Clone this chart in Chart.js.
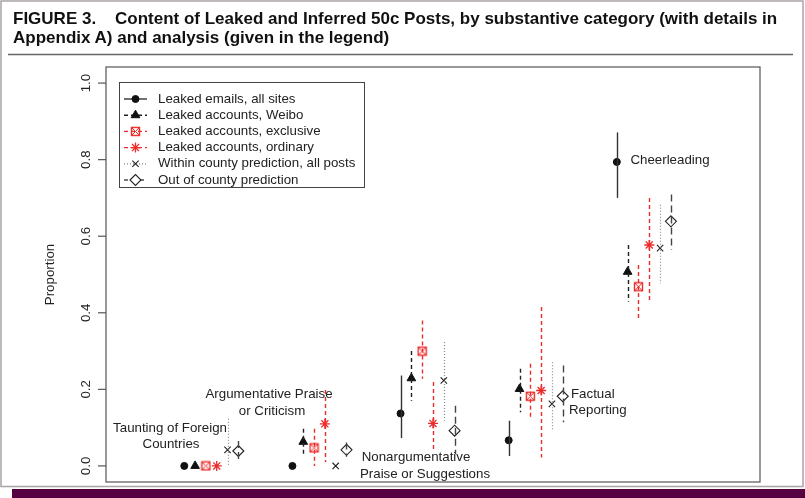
<!DOCTYPE html>
<html lang="en">
<head>
  <meta charset="UTF-8">
  <title>Content of Leaked and Inferred 50c Posts</title>
  <script src="https://cdn.jsdelivr.net/npm/chart.js"></script>
  <style>
    body { margin: 0; background: #fff; }
    #wrap { position: relative; width: 805px; height: 498px; overflow: hidden; }
    canvas { position: absolute; left: 0; top: 0; }
    #title {
      position: absolute; left: 13px; top: 9px; width: 790px;
      font-family: "Liberation Sans", Arial, Helvetica, sans-serif;
      font-weight: bold; font-size: 17px; line-height: 19px; color: #111;
      white-space: nowrap;
    }
  </style>
</head>
<body>
  <div id="wrap">
    <canvas id="fig" width="805" height="498"></canvas>
    <div id="title">FIGURE 3.&nbsp;&nbsp;&nbsp; Content of Leaked and Inferred 50c Posts, by substantive category (with details in<br>Appendix A) and analysis (given in the legend)</div>
  </div>

  <script>
    // categories (x positions 1..5), labels drawn near each cluster
    const categories = ["Taunting of Foreign Countries", "Argumentative Praise or Criticism",
      "Nonargumentative Praise or Suggestions", "Factual Reporting", "Cheerleading"];
    const yTicks = [0, 0.2, 0.4, 0.6, 0.8, 1.0];
    const yTickLabels = ["0.0", "0.2", "0.4", "0.6", "0.8", "1.0"];

    const seriesNames = ["Leaked emails, all sites", "Leaked accounts, Weibo", "Leaked accounts, exclusive",
      "Leaked accounts, ordinary", "Within county prediction, all posts", "Out of county prediction"];

    // proportion and interval ends per category (null = no interval drawn)
    const emailsVal = [0, 0, 0.137, 0.067, 0.794];
    const emailsLo  = [null, null, 0.073, 0.026, 0.700];
    const emailsHi  = [null, null, 0.236, 0.118, 0.871];

    const weiboVal = [0, 0.063, 0.229, 0.201, 0.507];
    const weiboLo  = [null, 0.030, 0.170, 0.140, 0.429];
    const weiboHi  = [null, 0.097, 0.300, 0.254, 0.577];

    const exclusiveVal = [0, 0.047, 0.300, 0.182, 0.468];
    const exclusiveLo  = [null, 0.000, 0.228, 0.127, 0.385];
    const exclusiveHi  = [null, 0.097, 0.380, 0.267, 0.525];

    const ordinaryVal = [0, 0.110, 0.111, 0.197, 0.577];
    const ordinaryLo  = [null, 0.010, 0.039, 0.022, 0.433];
    const ordinaryHi  = [null, 0.198, 0.219, 0.415, 0.700];

    const withinVal = [0.042, 0, 0.223, 0.162, 0.569];
    const withinLo  = [0.000, null, 0.118, 0.092, 0.477];
    const withinHi  = [0.123, null, 0.324, 0.271, 0.682];

    const outVal = [0.039, 0.042, 0.092, 0.182, 0.639];
    const outLo  = [0.015, 0.024, 0.031, 0.114, 0.564];
    const outHi  = [0.065, 0.061, 0.157, 0.262, 0.709];

    const RED = "#ec2b2b";
    const FONT = "13.3px 'Liberation Sans', Arial, sans-serif";

    // pch 7 style marker: square with an x inside
    function boxedX() {
      const c = document.createElement("canvas");
      c.width = 11; c.height = 11;
      const g = c.getContext("2d");
      g.strokeStyle = RED; g.lineWidth = 1.4;
      g.strokeRect(1.5, 1.5, 8, 8);
      g.lineWidth = 1;
      g.beginPath();
      g.moveTo(2, 2); g.lineTo(9, 9);
      g.moveTo(9, 2); g.lineTo(2, 9);
      g.stroke();
      return c;
    }

    const series = [
      { val: emailsVal, lo: emailsLo, hi: emailsHi, style: "circle", radius: 3.5, bg: "#111", border: "#111", bw: 1, line: "#333", dash: [], lw: 1.4 },
      { val: weiboVal, lo: weiboLo, hi: weiboHi, style: "triangle", radius: 5, bg: "#111", border: "#111", bw: 1, line: "#222", dash: [4, 3], lw: 1.4 },
      { val: exclusiveVal, lo: exclusiveLo, hi: exclusiveHi, style: boxedX(), radius: 5, bg: RED, border: RED, bw: 1, line: RED, dash: [4, 3], lw: 1.4 },
      { val: ordinaryVal, lo: ordinaryLo, hi: ordinaryHi, style: "star", radius: 5, bg: RED, border: RED, bw: 1.3, line: RED, dash: [4, 3], lw: 1.4 },
      { val: withinVal, lo: withinLo, hi: withinHi, style: "crossRot", radius: 4.5, bg: "#222", border: "#222", bw: 1.1, line: "#888", dash: [1, 2], lw: 1.2 },
      { val: outVal, lo: outLo, hi: outHi, style: "rectRot", radius: 5.5, bg: "#fff", border: "#222", bw: 1.1, line: "#444", dash: [7, 4], lw: 1.4 }
    ];

    // x = category index + 0.1 per series
    const datasets = series.map((s, j) => ({
      label: seriesNames[j],
      data: s.val.map((v, i) => ({ x: i + 1 + j * 0.1, y: v })),
      pointStyle: s.style,
      pointRadius: s.radius,
      pointBackgroundColor: s.bg,
      pointBorderColor: s.border,
      pointBorderWidth: s.bw,
      showLine: false
    }));

    const labelSpots = [
      { lines: ["Taunting of Foreign", "Countries"], x: [170, 171], y: [428, 444], align: "center" },
      { lines: ["Argumentative Praise", "or Criticism"], x: [269, 272], y: [394, 411], align: "center" },
      { lines: ["Nonargumentative", "Praise or Suggestions"], x: [416, 425], y: [457, 474], align: "center" },
      { lines: ["Factual", "Reporting"], x: [571, 569], y: [394, 410], align: "left" },
      { lines: ["Cheerleading"], x: [670], y: [160], align: "center" }
    ];

    const figurePlugin = {
      id: "figure",
      beforeDraw(chart) {
        const ctx = chart.ctx;
        const a = chart.chartArea;
        ctx.save();
        ctx.fillStyle = "#fff";
        ctx.fillRect(0, 0, 805, 498);
        // outer frame and bottom band
        ctx.strokeStyle = "#a9a3a8";
        ctx.lineWidth = 1.5;
        ctx.strokeRect(1, 1, 802, 485.5);
        ctx.fillStyle = "#560042";
        ctx.fillRect(12, 489, 793, 9);
        // rule under the title
        ctx.strokeStyle = "#666";
        ctx.lineWidth = 1.5;
        ctx.beginPath(); ctx.moveTo(8, 54.5); ctx.lineTo(793, 54.5); ctx.stroke();
        // plot box
        ctx.strokeStyle = "#555";
        ctx.lineWidth = 1.2;
        ctx.strokeRect(a.left, a.top, a.right - a.left, a.bottom - a.top);
        // y ticks & labels
        const ys = chart.scales.y;
        ctx.fillStyle = "#222";
        ctx.font = FONT;
        ctx.textAlign = "center";
        ctx.textBaseline = "middle";
        yTicks.forEach((t, i) => {
          const py = ys.getPixelForValue(t);
          ctx.beginPath(); ctx.moveTo(a.left - 8, py); ctx.lineTo(a.left, py); ctx.stroke();
          ctx.save();
          ctx.translate(86, py);
          ctx.rotate(-Math.PI / 2);
          ctx.fillText(yTickLabels[i], 0, 0);
          ctx.restore();
        });
        ctx.save();
        ctx.translate(50, (a.top + a.bottom) / 2);
        ctx.rotate(-Math.PI / 2);
        ctx.fillText("Proportion", 0, 0);
        ctx.restore();
        // category labels
        labelSpots.forEach(l => {
          ctx.textAlign = l.align;
          l.lines.forEach((t, k) => ctx.fillText(t, l.x[k], l.y[k]));
        });
        ctx.restore();
      },
      afterDatasetsDraw(chart) {
        const ctx = chart.ctx;
        const xs = chart.scales.x, ys = chart.scales.y;
        ctx.save();
        series.forEach((s, j) => {
          ctx.strokeStyle = s.line;
          ctx.lineWidth = s.lw;
          ctx.setLineDash(s.dash);
          s.val.forEach((v, i) => {
            if (s.lo[i] === null) return;
            const px = Math.round(xs.getPixelForValue(i + 1 + j * 0.1)) + 0.5;
            ctx.beginPath();
            ctx.moveTo(px, ys.getPixelForValue(s.hi[i]));
            ctx.lineTo(px, ys.getPixelForValue(s.lo[i]));
            ctx.stroke();
          });
        });
        ctx.restore();
      },
      afterDraw(chart) {
        const ctx = chart.ctx;
        ctx.save();
        // legend box
        ctx.fillStyle = "#fff";
        ctx.fillRect(119, 82, 245, 105);
        ctx.strokeStyle = "#444";
        ctx.lineWidth = 1;
        ctx.strokeRect(119.5, 82.5, 245, 105);
        ctx.font = FONT;
        ctx.textBaseline = "middle";
        ctx.textAlign = "left";
        series.forEach((s, j) => {
          const y = 99 + j * 16.2;
          ctx.strokeStyle = s.line;
          ctx.lineWidth = s.lw;
          ctx.setLineDash(s.dash.length ? s.dash.map(d => Math.min(d, 4)) : []);
          ctx.beginPath(); ctx.moveTo(124, y); ctx.lineTo(147, y); ctx.stroke();
          ctx.setLineDash([]);
          ctx.fillStyle = s.bg;
          ctx.strokeStyle = s.border;
          ctx.lineWidth = s.bw;
          Chart.helpers.drawPoint(ctx, { pointStyle: s.style, radius: s.radius, borderWidth: s.bw, rotation: 0 }, 135.5, y);
          ctx.fillStyle = "#222";
          ctx.fillText(seriesNames[j], 158, y);
        });
        ctx.restore();
      }
    };

    new Chart(document.getElementById("fig").getContext("2d"), {
      type: "scatter",
      data: { datasets },
      options: {
        responsive: false,
        animation: false,
        layout: { padding: { left: 106, top: 67, right: 45, bottom: 16 } },
        plugins: { legend: { display: false }, tooltip: { enabled: false } },
        scales: {
          x: { type: "linear", min: 0.276, max: 6.324, display: false },
          y: { type: "linear", min: -0.042, max: 1.042, display: false }
        }
      },
      plugins: [figurePlugin]
    });
  </script>
</body>
</html>
